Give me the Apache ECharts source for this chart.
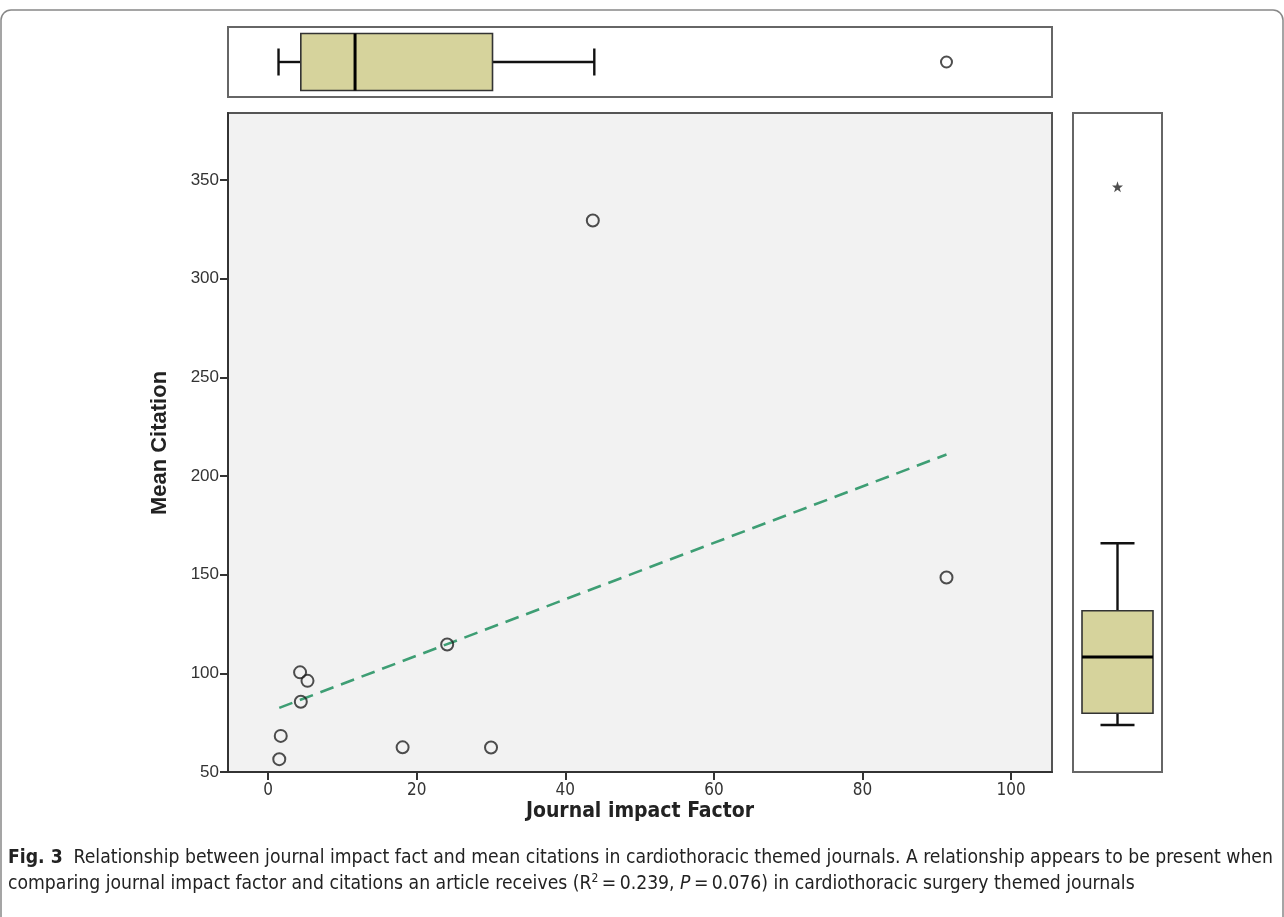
<!DOCTYPE html>
<html><head><meta charset="utf-8">
<script src="https://cdn.jsdelivr.net/npm/echarts@6/dist/echarts.min.js"></script>
<style>html,body{margin:0;padding:0;background:#fff}#c{width:1284px;height:917px}</style>
</head><body><div id="c"></div>
<script>
// ---- data ----
const impactFactor = [1.5, 1.7, 4.3, 5.3, 4.4, 18.1, 30.0, 24.1, 43.7, 91.3];
const meanCitation = [56.5, 68.3, 100.5, 96.2, 85.6, 62.5, 62.4, 114.6, 329.5, 148.6];
const fitLineX = [1.5, 91.3];
const fitLineY = [82.5, 210.9];
const impactBox = [1.4, 4.4, 11.7, 30.2, 43.9];      // min, Q1, median, Q3, max
const impactOutliers = [91.3];
const citationBox = [73.8, 79.8, 108.3, 131.7, 165.9];
const citationExtremes = [346.6];
const xTicks = [0, 20, 40, 60, 80, 100];
const yTicks = [50, 100, 150, 200, 250, 300, 350];
const xRange = [-5.4, 105.5];
const yRange = [50, 384];

const scatterData = impactFactor.map((x, i) => [x, meanCitation[i]]);
const fitData = fitLineX.map((x, i) => [x, fitLineY[i]]);

const chart = echarts.init(document.getElementById('c'), null, {renderer: 'canvas'});
const narrow = "'Liberation Sans Narrow', 'DejaVu Sans Condensed', sans-serif";
const arial = "'Liberation Sans', Arial, sans-serif";
const boxFill = '#d6d39c';
const starPath = 'path://M0,-10L2.35,-3.24L9.51,-3.09L3.8,1.24L5.88,8.09L0,4L-5.88,8.09L-3.8,1.24L-9.51,-3.09L-2.35,-3.24Z';

function hBox(params, api) {
  const p = [0,1,2,3,4].map(i => api.coord([api.value(i), 0.5]));
  const cy = p[0][1], hb = 28.5, hc = 13.5;
  const ls = {stroke: '#111', lineWidth: 2.4};
  return {type: 'group', children: [
    {type: 'line', shape: {x1: p[0][0], y1: cy, x2: p[1][0], y2: cy}, style: ls},
    {type: 'line', shape: {x1: p[3][0], y1: cy, x2: p[4][0], y2: cy}, style: ls},
    {type: 'line', shape: {x1: p[0][0], y1: cy - hc, x2: p[0][0], y2: cy + hc}, style: ls},
    {type: 'line', shape: {x1: p[4][0], y1: cy - hc, x2: p[4][0], y2: cy + hc}, style: ls},
    {type: 'rect', shape: {x: p[1][0], y: cy - hb, width: p[3][0] - p[1][0], height: 2 * hb}, style: {fill: boxFill, stroke: '#333', lineWidth: 1.6}},
    {type: 'line', shape: {x1: p[2][0], y1: cy - hb, x2: p[2][0], y2: cy + hb}, style: {stroke: '#000', lineWidth: 3}}
  ]};
}
function vBox(params, api) {
  const p = [0,1,2,3,4].map(i => api.coord([0.5, api.value(i)]));
  const cx = p[0][0], hb = 35.5, hc = 17;
  const ls = {stroke: '#111', lineWidth: 2.4};
  return {type: 'group', children: [
    {type: 'line', shape: {x1: cx, y1: p[0][1], x2: cx, y2: p[1][1]}, style: ls},
    {type: 'line', shape: {x1: cx, y1: p[3][1], x2: cx, y2: p[4][1]}, style: ls},
    {type: 'line', shape: {x1: cx - hc, y1: p[0][1], x2: cx + hc, y2: p[0][1]}, style: ls},
    {type: 'line', shape: {x1: cx - hc, y1: p[4][1], x2: cx + hc, y2: p[4][1]}, style: ls},
    {type: 'rect', shape: {x: cx - hb, y: p[3][1], width: 2 * hb, height: p[1][1] - p[3][1]}, style: {fill: boxFill, stroke: '#333', lineWidth: 1.6}},
    {type: 'line', shape: {x1: cx - hb, y1: p[2][1], x2: cx + hb, y2: p[2][1]}, style: {stroke: '#000', lineWidth: 3}}
  ]};
}

const hidden = {axisLine: {show: false}, axisTick: {show: false}, axisLabel: {show: false}, splitLine: {show: false}};

chart.setOption({
  animation: false,
  backgroundColor: '#fff',
  grid: [
    {left: 228, top: 113, width: 824, height: 659, show: true, backgroundColor: '#f2f2f2', borderColor: '#555', borderWidth: 2},
    {left: 228, top: 27, width: 824, height: 70, show: true, backgroundColor: '#fff', borderColor: '#666', borderWidth: 2},
    {left: 1073, top: 113, width: 89, height: 659, show: true, backgroundColor: '#fff', borderColor: '#666', borderWidth: 2}
  ],
  xAxis: [
    {gridIndex: 0, type: 'value', min: xRange[0], max: xRange[1],
     axisLine: {show: true, onZero: false, lineStyle: {color: '#333', width: 2}},
     axisTick: {show: true, customValues: xTicks, length: 8, lineStyle: {color: '#333', width: 2}},
     axisLabel: {customValues: xTicks, color: '#333', fontSize: 17, fontFamily: narrow, margin: 10},
     splitLine: {show: false}},
    Object.assign({gridIndex: 1, type: 'value', min: xRange[0], max: xRange[1]}, hidden),
    Object.assign({gridIndex: 2, type: 'value', min: 0, max: 1}, hidden)
  ],
  yAxis: [
    {gridIndex: 0, type: 'value', min: yRange[0], max: yRange[1],
     axisLine: {show: true, onZero: false, lineStyle: {color: '#333', width: 2}},
     axisTick: {show: true, customValues: yTicks, length: 8, lineStyle: {color: '#333', width: 2}},
     axisLabel: {customValues: yTicks, color: '#333', fontSize: 17, fontFamily: arial, margin: 9},
     splitLine: {show: false}},
    Object.assign({gridIndex: 1, type: 'value', min: 0, max: 1}, hidden),
    Object.assign({gridIndex: 2, type: 'value', min: yRange[0], max: yRange[1]}, hidden)
  ],
  series: [
    {type: 'line', xAxisIndex: 0, yAxisIndex: 0, data: fitData, symbol: 'none', z: 2,
     lineStyle: {color: '#3e9e74', width: 2.6, type: [14, 8]}},
    {type: 'scatter', xAxisIndex: 0, yAxisIndex: 0, data: scatterData, symbol: 'circle', symbolSize: 12, z: 3,
     itemStyle: {color: 'rgba(0,0,0,0)', borderColor: '#222', borderWidth: 2}},
    {type: 'custom', xAxisIndex: 1, yAxisIndex: 1, data: [impactBox], renderItem: hBox},
    {type: 'scatter', xAxisIndex: 1, yAxisIndex: 1, data: impactOutliers.map(v => [v, 0.5]), symbol: 'circle', symbolSize: 11,
     itemStyle: {color: 'rgba(0,0,0,0)', borderColor: '#222', borderWidth: 2}},
    {type: 'custom', xAxisIndex: 2, yAxisIndex: 2, data: [citationBox], renderItem: vBox},
    {type: 'scatter', xAxisIndex: 2, yAxisIndex: 2, data: citationExtremes.map(v => [0.5, v]), symbol: starPath, symbolSize: 11,
     itemStyle: {color: '#222'}}
  ],
  graphic: [
    {type: 'rect', z: -10, shape: {x: 1, y: 10, width: 1282, height: 940, r: 10}, style: {fill: 'none', stroke: '#888', lineWidth: 1.5}},
    {type: 'text', x: 640, y: 812, style: {text: 'Journal impact Factor', fontFamily: narrow, fontWeight: 'bold', fontSize: 21, fill: '#222', align: 'center', verticalAlign: 'middle'}},
    {type: 'text', x: 160, y: 443, rotation: Math.PI / 2, style: {text: 'Mean Citation', fontFamily: arial, fontWeight: 'bold', fontSize: 22, fill: '#222', align: 'center', verticalAlign: 'middle'}},
    {type: 'text', x: 8, y: 858, style: {
      text: '{b|Fig. 3}  Relationship between journal impact fact and mean citations in cardiothoracic themed journals. A relationship appears to be present when',
      fontFamily: narrow, fontSize: 19.2, fill: '#222', verticalAlign: 'middle',
      rich: {b: {fontFamily: narrow, fontSize: 19.2, fontWeight: 'bold', fill: '#222'}}}},
    {type: 'text', x: 8, y: 884, style: {
      text: 'comparing journal impact factor and citations an article receives (R{sup|2}\u2009=\u20090.239, {i|P}\u2009=\u20090.076) in cardiothoracic surgery themed journals',
      fontFamily: narrow, fontSize: 19.2, fill: '#222', verticalAlign: 'middle',
      rich: {sup: {fontFamily: narrow, fontSize: 12, fill: '#222', padding: [0, 0, 10, 0]},
             i: {fontFamily: narrow, fontSize: 19.2, fontStyle: 'italic', fill: '#222'}}}}
  ]
});
</script></body></html>
